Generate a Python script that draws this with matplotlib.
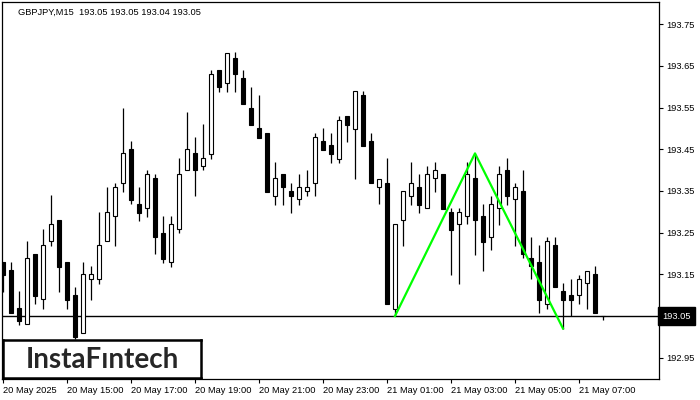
import matplotlib
matplotlib.use("Agg")
import matplotlib.pyplot as plt
import numpy as np

plt.rcParams['font.family'] = ['Liberation Sans', 'DejaVu Sans']

# GBPJPY M15 candles, 20 May 13:00 .. 21 May 07:45
opens = [193.180, 193.160, 193.069, 193.030, 193.199, 193.090, 193.229, 193.280, 193.179, 193.100,
         193.009, 193.138, 193.138, 193.229, 193.289, 193.368, 193.450, 193.319, 193.308, 193.380,
         193.249, 193.179, 193.258, 193.399, 193.440, 193.409, 193.439, 193.640, 193.608, 193.668,
         193.621, 193.549, 193.501, 193.489, 193.339, 193.391, 193.350, 193.330, 193.349, 193.368,
         193.469, 193.459, 193.427, 193.529, 193.499, 193.580, 193.469, 193.359, 193.368, 193.068,
         193.280, 193.339, 193.359, 193.308, 193.380, 193.390, 193.299, 193.270, 193.289, 193.380,
         193.289, 193.239, 193.308, 193.399, 193.330, 193.349, 193.188, 193.179, 193.080, 193.220,
         193.109, 193.100, 193.100, 193.128, 193.150, 193.050]
highs = [193.180, 193.180, 193.110, 193.230, 193.199, 193.259, 193.340, 193.280, 193.179, 193.120,
         193.179, 193.169, 193.299, 193.359, 193.368, 193.549, 193.470, 193.359, 193.399, 193.390,
         193.290, 193.290, 193.429, 193.539, 193.479, 193.510, 193.640, 193.640, 193.680, 193.682,
         193.640, 193.598, 193.579, 193.489, 193.419, 193.391, 193.369, 193.391, 193.400, 193.488,
         193.500, 193.488, 193.530, 193.529, 193.589, 193.590, 193.488, 193.379, 193.429, 193.270,
         193.349, 193.419, 193.391, 193.409, 193.419, 193.390, 193.308, 193.308, 193.419, 193.439,
         193.319, 193.339, 193.409, 193.428, 193.368, 193.399, 193.239, 193.220, 193.239, 193.239,
         193.128, 193.138, 193.149, 193.159, 193.169, 193.050]
lows = [193.108, 193.057, 193.029, 193.030, 193.080, 193.068, 193.219, 193.108, 193.068, 192.994,
        193.009, 193.089, 193.127, 193.229, 193.219, 193.348, 193.318, 193.279, 193.288, 193.198,
        193.178, 193.168, 193.248, 193.399, 193.338, 193.399, 193.427, 193.588, 193.588, 193.588,
        193.559, 193.509, 193.478, 193.348, 193.317, 193.317, 193.298, 193.317, 193.339, 193.339,
        193.449, 193.418, 193.418, 193.468, 193.379, 193.458, 193.368, 193.318, 193.080, 193.050,
        193.219, 193.317, 193.298, 193.308, 193.348, 193.307, 193.149, 193.127, 193.270, 193.197,
        193.159, 193.209, 193.269, 193.317, 193.219, 193.188, 193.138, 193.058, 193.068, 193.119,
        193.020, 193.050, 193.080, 193.068, 193.058, 193.040]
closes = [193.149, 193.058, 193.039, 193.188, 193.099, 193.220, 193.270, 193.168, 193.089, 192.999,
          193.150, 193.150, 193.220, 193.299, 193.359, 193.440, 193.329, 193.298, 193.390, 193.239,
          193.187, 193.270, 193.390, 193.450, 193.399, 193.429, 193.630, 193.598, 193.680, 193.630,
          193.559, 193.509, 193.478, 193.348, 193.380, 193.359, 193.338, 193.359, 193.359, 193.479,
          193.449, 193.439, 193.519, 193.509, 193.589, 193.458, 193.368, 193.379, 193.080, 193.270,
          193.349, 193.368, 193.317, 193.390, 193.399, 193.307, 193.257, 193.299, 193.390, 193.280,
          193.228, 193.318, 193.390, 193.339, 193.359, 193.198, 193.169, 193.089, 193.229, 193.119,
          193.089, 193.089, 193.138, 193.159, 193.058, 193.050]

time_ticks = [0, 8, 16, 24, 32, 40, 48, 56, 64, 72]
time_labels = ["20 May 2025", "20 May 15:00", "20 May 17:00", "20 May 19:00", "20 May 21:00",
               "20 May 23:00", "21 May 01:00", "21 May 03:00", "21 May 05:00", "21 May 07:00"]
price_ticks = [192.95, 193.05, 193.15, 193.25, 193.35, 193.45, 193.55, 193.65, 193.75]
last_price = 193.05

# double bottom pattern points (bottom, peak, bottom)
pattern_idx = [49, 59, 70]
pattern_price = [193.05, 193.44, 193.02]

fig = plt.figure(figsize=(7, 4), dpi=100)
ax = fig.add_axes([2 / 700, 21 / 400, 657 / 700, 377 / 400])

x = np.arange(len(opens))
o = np.array(opens)
h = np.array(highs)
l = np.array(lows)
c = np.array(closes)

ax.vlines(x, l, h, color='black', lw=0.9, zorder=2)
up = c >= o
bottoms = np.minimum(o, c)
heights = np.maximum(np.abs(c - o), 0.0006)
ax.bar(x[up], heights[up], bottom=bottoms[up], width=0.55, facecolor='white',
       edgecolor='black', linewidth=0.8, zorder=3)
ax.bar(x[~up], heights[~up], bottom=bottoms[~up], width=0.55, facecolor='black',
       edgecolor='black', linewidth=0.8, zorder=3)

ax.axhline(last_price, color='black', lw=1.0, zorder=1)
ax.plot(pattern_idx, pattern_price, color='#00ff00', lw=1.6, zorder=4)

ax.set_xlim(-0.125, 82)
ax.set_ylim(192.899, 193.803)

ax.yaxis.tick_right()
ax.set_yticks(price_ticks)
# the last price box takes the place of its own tick label
ax.set_yticklabels(["" if abs(p - last_price) < 1e-6 else f"{p:.2f}" for p in price_ticks])
ax.tick_params(axis='y', direction='out', length=3, width=0.8, pad=2, labelsize=6.7, colors='black')
ax.set_xticks(time_ticks)
ax.set_xticklabels(time_labels, ha='left')
ax.tick_params(axis='x', direction='out', length=3, width=0.8, pad=2, labelsize=6.7)
for sp in ax.spines.values():
    sp.set_linewidth(0.9)
    sp.set_color('black')

ax.text(1.0045, last_price, f"{last_price:.2f}", transform=ax.get_yaxis_transform(),
        ha='left', va='center', fontsize=6.7, color='white', zorder=6,
        bbox=dict(boxstyle='square,pad=0.45', facecolor='black', edgecolor='black'))

ax.text(0.024, 0.985, "GBPJPY,M15  193.05 193.05 193.04 193.05", transform=ax.transAxes,
        ha='left', va='top', fontsize=6.7, color='black')

# logo box
logo_ax = fig.add_axes([3 / 700, 22 / 400, 198 / 700, 38 / 400])
logo_ax.set_xticks([])
logo_ax.set_yticks([])
for sp in logo_ax.spines.values():
    sp.set_linewidth(1.8)
    sp.set_color('black')
logo_ax.text(0.5, 0.47, "InstaF\u0131ntech", ha='center', va='center', fontsize=20,
             family='Lato', weight='bold', color='#262626', transform=logo_ax.transAxes)

fig.savefig("out.png", dpi=100)
